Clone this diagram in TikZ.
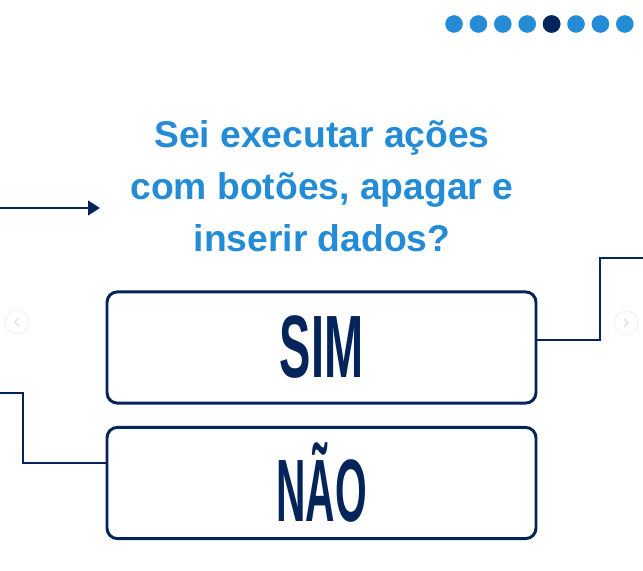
\documentclass[tikz,border=0pt]{standalone}
\usepackage{fontspec}
\setmainfont{Liberation Sans}
\usepackage{tikz}
\usetikzlibrary{arrows.meta,positioning,calc}
\definecolor{navy}{RGB}{4,36,90}
\definecolor{sky}{RGB}{36,140,214}

\begin{document}
\begin{tikzpicture}[>={Triangle[length=3mm,width=3.6mm]},
  link/.style={draw=navy, line width=2.1pt},
  answer/.style={rectangle, rounded corners=2.6mm, draw=navy, line width=2.1pt, fill=white,
                 minimum width=10.725cm, minimum height=2.78cm, text=navy,
                 font=\bfseries\fontsize{63}{63}\selectfont, inner sep=0pt},
  dot/.style={circle, fill=sky, minimum size=4.4mm, inner sep=0pt},
  pager/.style={circle, draw=gray!12, fill=white, line width=0.6pt, minimum size=6mm, inner sep=0pt}]
  \useasboundingbox[fill=white] (0,0) rectangle (16.075,14.25);
  % page dots
  \foreach \i in {0,...,7}
    \node[dot] (d\i) at (11.35+0.61*\i,13.65) {};
  \node[dot, fill=navy] at (d4) {};
  % question
  \node[text=sky, align=center, font=\bfseries\fontsize{26.5}{36.9}\selectfont] (q) at (8.05,9.6)
    {Sei executar ações\\com botões, apagar e\\inserir dados?};
  \coordinate (in) at (0,9.05);
  \coordinate (tip) at (2.5,9.05);
  \draw[link, ->] (in) -- (tip);
  % answers
  \node[answer] (sim) at (8.0375,5.5625) {\scalebox{0.53}[1]{SIM}};
  \node[answer] (nao) at (8.0375,2.175) {\scalebox{0.46}[1]{NÃO}};
  \coordinate (simout) at (16.075,7.8);
  \coordinate (naoin) at (0,4.425);
  \draw[link] (sim.east |- 0,5.75) -| (15.0,7.8) -- (simout);
  \draw[link] (naoin) -| (0.575,2.675) -- (nao.west |- 0,2.675);
  % carousel buttons
  \node[pager] (prev) at (0.425,6.2) {};
  \node[pager] (next) at (15.65,6.175) {};
  \draw[gray!30, line width=0.6pt] ($(prev)+(0.05,0.1)$) -- ($(prev)+(-0.05,0)$) -- ($(prev)+(0.05,-0.1)$);
  \draw[gray!30, line width=0.6pt] ($(next)+(-0.05,0.1)$) -- ($(next)+(0.05,0)$) -- ($(next)+(-0.05,-0.1)$);
\end{tikzpicture}
\end{document}
